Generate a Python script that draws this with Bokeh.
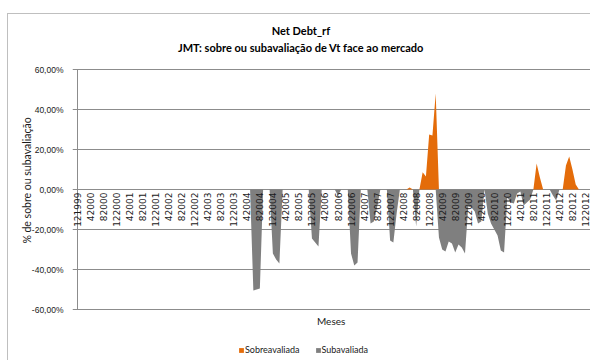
import numpy as np
from bokeh.plotting import figure
from bokeh.models import (Range1d, FixedTicker, Legend, LegendItem, Label,
                          ColumnDataSource, InlineStyleSheet)
from bokeh.embed import file_html
from bokeh.resources import INLINE

# Month codes (month + year) written on the category axis, one every 4 months
rotulos_meses = [
    "121999",
    "42000", "82000", "122000",
    "42001", "82001", "122001",
    "42002", "82002", "122002",
    "42003", "82003", "122003",
    "42004", "82004", "122004",
    "42005", "82005", "122005",
    "42006", "82006", "122006",
    "42007", "82007", "122007",
    "42008", "82008", "122008",
    "42009", "82009", "122009",
    "42010", "82010", "122010",
    "42011", "82011", "122011",
    "42012", "82012", "122012",
]

# Monthly deviation of Vt versus market (%), 12/1999 .. 12/2012
sobreavaliada = [
    0,                                                  # 12/1999
    0, 0, 0, 0, 0, 0, 0, 0, 0, 0, 0, 0,                 # 2000
    0, 0, 0, 0, 0, 0, 0, 0, 0, 0, 0, 0,                 # 2001
    0, 0, 0, 0, 0, 0, 0, 0, 0, 0, 0, 0,                 # 2002
    0, 0, 0, 0, 0, 0, 0, 0, 0, 0, 0, 0,                 # 2003
    0, 0, 0, 0, 0, 0, 0, 0, 0, 0, 0, 0,                 # 2004
    0, 0, 0, 0, 0, 0, 0, 0, 0, 0, 0, 0,                 # 2005
    0, 0, 0, 0, 0, 0, 0, 0, 0, 0, 0, 0,                 # 2006
    0, 0, 0, 0, 0, 0, 0, 0, 0, 0, 0, 0,                 # 2007
    0, 0, 0, 0, 0, 1, 0, 0, 0, 8.6, 6.5, 27.5,          # 2008
    27, 48, 0, 0, 0, 0, 0, 0, 0, 0, 0, 0,               # 2009
    0, 0, 0, 0, 0, 0, 0, 0, 0, 0, 0, 0,                 # 2010
    0, 0, 0, 0, 0, 0, 0, 0, 13, 6, 0, 0,                # 2011
    0, 0, 0, 0, 0, 12, 16.5, 10, 2.5, 0, 0, 0,          # 2012
]
subavaliada = [
    0,                                                  # 12/1999
    0, 0, 0, 0, 0, 0, 0, 0, 0, 0, 0, 0,                 # 2000
    0, 0, 0, 0, 0, 0, 0, 0, 0, 0, 0, 0,                 # 2001
    0, 0, 0, 0, 0, 0, 0, 0, 0, 0, 0, 0,                 # 2002
    0, 0, 0, 0, 0, 0, 0, 0, 0, 0, 0, 0,                 # 2003
    0, 0, 0, 0, 0, -50.5, -50, -49.5, 0, 0, 0, -32,     # 2004
    -35, -37, 0, 0, 0, 0, 0, 0, 0, 0, 0, -24.5,         # 2005
    -26.5, -28.5, 0, 0, 0, 0, 0, -3, 0, 0, 0, -32,      # 2006
    -38, -36.5, 0, 0, 0, -17, -16, -9, 0, 0, 0, -25.5,  # 2007
    -26.5, -12, 0, 0, 0, 0, 0, -18.5, 0, 0, 0, 0,       # 2008
    0, 0, -24, -30, -31, -26, -27, -31.5, -27.5, -29, -32, -8.5,      # 2009
    -9, -11, -17, -16, 0, -12, -17, -20, -23, -30.5, -31.5, -4,       # 2010
    -6.5, -7, -2, -1, -8, -6.5, -5, 0, 0, 0, 0, 0,      # 2011
    0, -3, -5.5, 0, 0, 0, 0, 0, 0, 0, 0, 0,             # 2012
]

y_ticks = [-60, -40, -20, 0, 20, 40, 60]
y_tick_labels = ["-60,00%", "-40,00%", "-20,00%", "0,00%", "20,00%", "40,00%", "60,00%"]

LARANJA = "#E46C0A"
CINZA = "#7F7F7F"
GRELHA = "#8C8C8C"
TEXTO = "#1a1a1a"
FONTE = "Lato"

meses = np.arange(len(sobreavaliada))
src = ColumnDataSource(dict(mes=meses, sobre=sobreavaliada, sub=subavaliada))

# The frame fills the canvas height (titles, axis title and legend live
# inside it, above and below the +/-60 % band) and runs a little past the
# first and last month so the grid lines poke out left of the value axis.
p = figure(width=590, height=360, output_backend="svg", toolbar_location=None,
           title=None, x_range=Range1d(-1.5355, 157.54),
           y_range=Range1d(-85.5, 94.5), x_axis_location=None,
           min_border_left=72, min_border_right=0,
           min_border_top=0, min_border_bottom=0)
p.outline_line_color = None
p.background_fill_color = "white"
p.border_fill_color = "white"

# light chart-area border along the top and left edges
p.stylesheets = [InlineStyleSheet(css="""
:host::after { content: ""; position: absolute; left: 7px; top: 13px;
  right: 0px; bottom: 0px; border-left: 1px solid #BFBFBF;
  border-top: 1px solid #BFBFBF; pointer-events: none; }
""")]

# horizontal grid every 20 %
p.xgrid.visible = False
p.ygrid.ticker = FixedTicker(ticks=y_ticks)
p.ygrid.grid_line_color = GRELHA
p.ygrid.grid_line_width = 1

# value axis, limited to the +/-60 % band
ax = p.yaxis[0]
ax.bounds = (y_ticks[0], y_ticks[-1])
ax.ticker = FixedTicker(ticks=y_ticks)
ax.major_label_overrides = dict(zip(y_ticks, y_tick_labels))
ax.axis_line_color = None
ax.major_tick_line_color = None
ax.minor_tick_line_color = None
ax.major_tick_out = 0
ax.major_tick_in = 0
ax.major_label_standoff = 9
ax.major_label_text_font = "Liberation Sans"
ax.major_label_text_font_size = "8.5px"
ax.major_label_text_color = TEXTO
ax.axis_label = "% de sobre ou subavaliação"
ax.axis_label_text_font = FONTE
ax.axis_label_text_font_style = "normal"
ax.axis_label_text_font_size = "10.5px"
ax.axis_label_text_color = TEXTO
ax.axis_label_standoff = -4

# value-axis line at the first month
p.segment(x0=[meses[0]], y0=[y_ticks[0]], x1=[meses[0]], y1=[y_ticks[-1]],
          line_color=GRELHA, line_width=1)

# the two area series
r_sobre = p.varea(x="mes", y1=0, y2="sobre", source=src, fill_color=LARANJA)
r_sub = p.varea(x="mes", y1=0, y2="sub", source=src, fill_color=CINZA)

# category labels hanging under the zero line
pos_rotulos = meses[::4]
p.text(x=pos_rotulos, y=np.zeros(len(pos_rotulos)), text=rotulos_meses,
       angle=np.pi / 2, text_align="right", text_baseline="middle",
       y_offset=3, text_font={"value": "DejaVu Sans"}, text_font_size="9px",
       text_color=TEXTO)

# titles and category-axis title
p.add_layout(Label(x=68.6, y=79.5, text="Net Debt_rf", text_align="center",
                   text_baseline="middle", text_font=FONTE,
                   text_font_style="bold", text_font_size="11px",
                   text_color="black"))
p.add_layout(Label(x=68.6, y=71, text="JMT: sobre ou subavaliação de Vt face ao mercado",
                   text_align="center", text_baseline="middle", text_font=FONTE,
                   text_font_style="bold", text_font_size="11px",
                   text_color="black"))
p.add_layout(Label(x=77.9, y=-65.5, text="Meses", text_align="center",
                   text_baseline="middle", text_font=FONTE, text_font_size="10px",
                   text_color=TEXTO))

legenda = Legend(items=[LegendItem(label="Sobreavaliada", renderers=[r_sobre]),
                        LegendItem(label="Subavaliada", renderers=[r_sub])],
                 orientation="horizontal", location=(166, 5),
                 border_line_color=None, background_fill_alpha=0,
                 padding=0, margin=0, spacing=15, glyph_width=6, glyph_height=6,
                 label_standoff=1, label_height=10, label_text_font=FONTE,
                 label_text_font_size="9px", label_text_color=TEXTO)
p.add_layout(legenda, "center")

open("out.html", "w").write(file_html(p, INLINE))
